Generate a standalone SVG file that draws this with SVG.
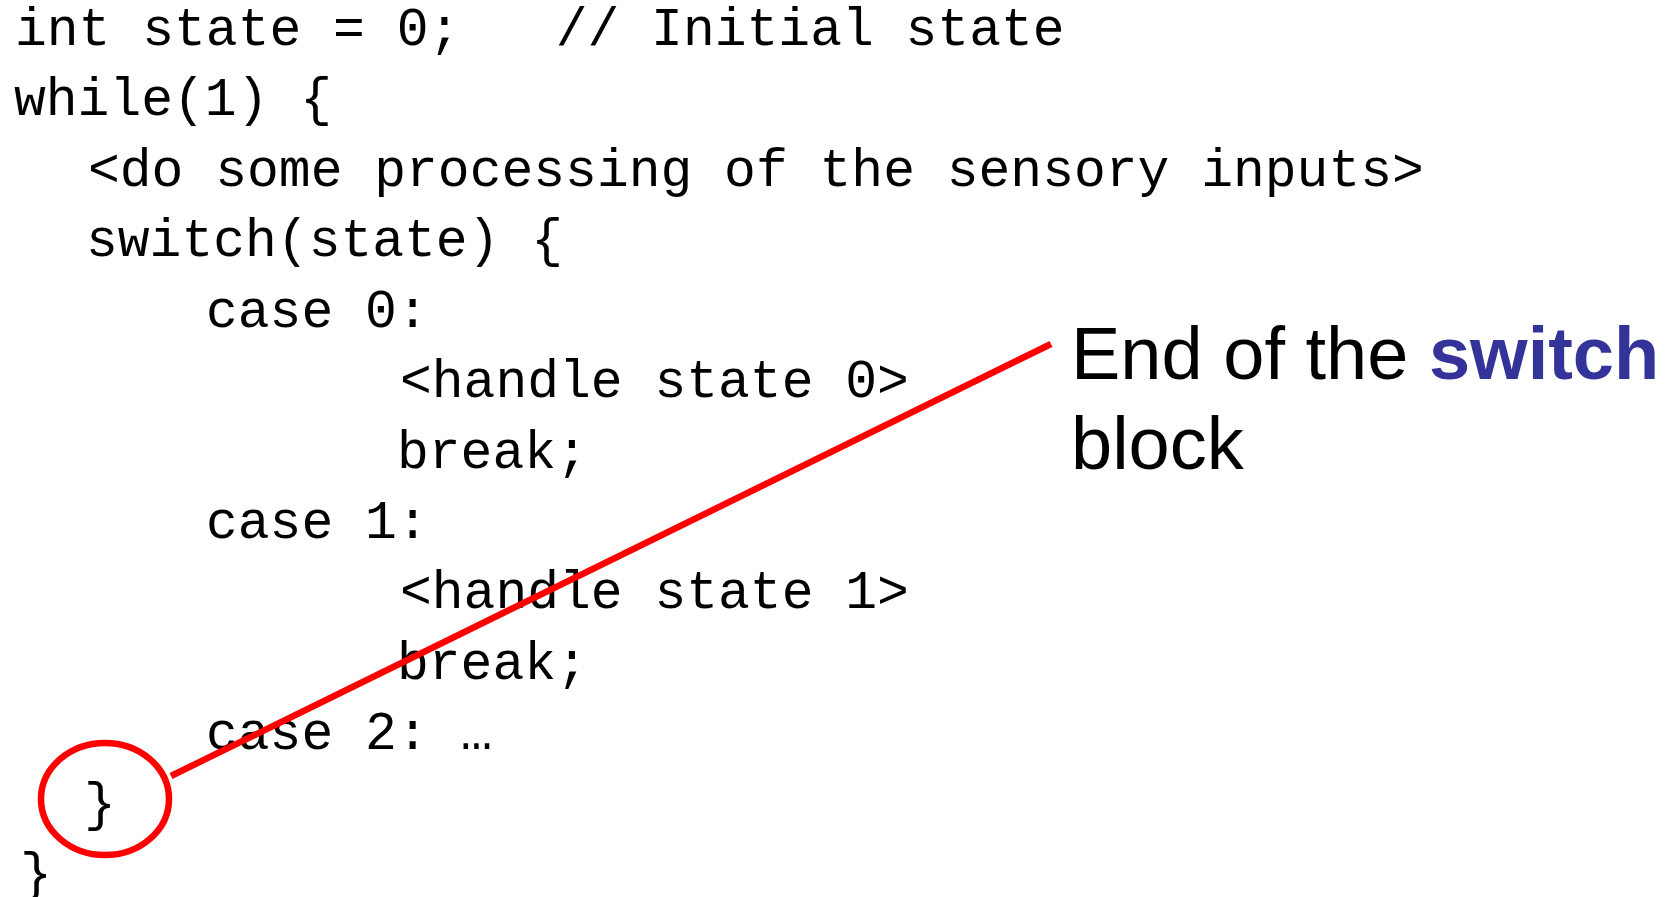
<svg xmlns="http://www.w3.org/2000/svg" width="1673" height="897" viewBox="0 0 1673 897">
  <style>
    .code { font-family: "Liberation Mono", "Courier New", monospace; font-size: 53px; fill: #000; }
    .note { font-family: "Liberation Sans", Arial, sans-serif; font-size: 74px; fill: #000; }
    .kw { font-weight: bold; fill: #333399; }
    .mark { fill: none; stroke: #ff0000; stroke-width: 6.5; }
  </style>
  <rect width="1673" height="897" fill="#ffffff"/>

  <!-- state machine skeleton -->
  <g id="code">
    <text class="code" x="15" y="45" xml:space="preserve">int state = 0;   // Initial state</text>
    <text class="code" x="14" y="115">while(1) {</text>
    <text class="code" x="88" y="186">&lt;do some processing of the sensory inputs&gt;</text>
    <text class="code" x="86" y="256">switch(state) {</text>
    <text class="code" x="206" y="327">case 0:</text>
    <text class="code" x="400" y="397">&lt;handle state 0&gt;</text>
    <text class="code" x="397" y="468">break;</text>
    <text class="code" x="206" y="538">case 1:</text>
    <text class="code" x="400" y="608">&lt;handle state 1&gt;</text>
    <text class="code" x="397" y="679">break;</text>
    <text class="code" x="206" y="749">case 2: …</text>
    <text class="code" x="84" y="820">}</text>
    <text class="code" x="20" y="890">}</text>
  </g>

  <!-- callout pointing at the closing brace -->
  <g id="connectors">
    <ellipse class="mark" cx="105" cy="799" rx="64" ry="56"/>
    <line class="mark" x1="171" y1="776" x2="1051" y2="344"/>
  </g>

  <g id="label">
    <text class="note" x="1071" y="379">End of the <tspan class="kw">switch</tspan></text>
    <text class="note" x="1071" y="469">block</text>
  </g>
</svg>
